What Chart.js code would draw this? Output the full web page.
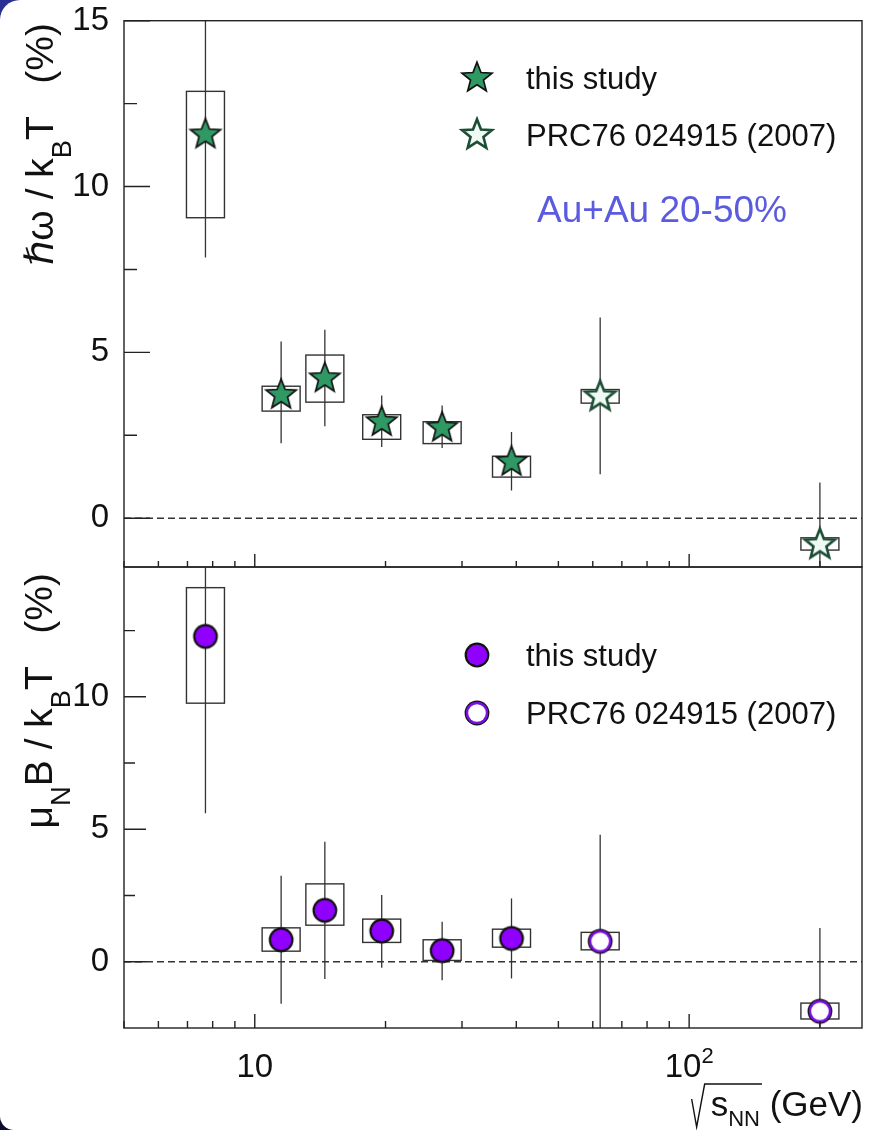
<!DOCTYPE html>
<html>
<head>
<meta charset="utf-8">
<script src="https://cdn.jsdelivr.net/npm/chart.js@4"></script>
<style>
  html, body { margin: 0; padding: 0; }
  body { width: 875px; height: 1130px; overflow: hidden; position: relative;
         background: linear-gradient(#283092, #0b0d2e); }
  #sheet { position: absolute; left: 0; top: 0; width: 875px; height: 1130px;
           background: #fff; border-radius: 20px 0 0 14px; }
  canvas { position: absolute; left: 0; }
  #top { top: 0; }
  #bottom { top: 540px; }
</style>
</head>
<body>
<div id="sheet"></div>
<canvas id="top" width="875" height="600"></canvas>
<canvas id="bottom" width="875" height="590"></canvas>
<script>
// collision energies, sqrt(s_NN) in GeV
const energies = [7.7, 11.5, 14.5, 19.6, 27, 39];
const prcEnergies = [62.4, 200];

// hbar*omega / kT (%)
const omegaVals   = [11.57, 3.72, 4.22, 2.90, 2.73, 1.70];
const omegaStatLo = [7.86, 2.26, 2.77, 2.15, 2.12, 0.84];
const omegaStatHi = [15.3, 5.33, 5.68, 3.70, 3.40, 2.60];
const omegaSysLo  = [9.06, 3.23, 3.50, 2.38, 2.25, 1.24];
const omegaSysHi  = [12.87, 3.98, 4.92, 3.12, 2.91, 1.87];
const omegaPrcVals   = [3.67, -0.79];
const omegaPrcStatLo = [1.33, -2.7];
const omegaPrcStatHi = [6.05, 1.08];
const omegaPrcSysLo  = [3.47, -0.96];
const omegaPrcSysHi  = [3.88, -0.59];

// mu_N B / kT (%)
const muVals   = [12.28, 0.83, 1.94, 1.16, 0.42, 0.88];
const muStatLo = [5.61, -1.58, -0.65, -0.23, -0.70, -0.63];
const muStatHi = [18.9, 3.25, 4.53, 2.52, 1.51, 2.39];
const muSysLo  = [9.76, 0.40, 1.38, 0.73, 0.05, 0.55];
const muSysHi  = [14.12, 1.28, 2.94, 1.61, 0.83, 1.23];
const muPrcVals   = [0.77, -1.87];
const muPrcStatLo = [-3.3, -5.0];
const muPrcStatHi = [4.79, 1.27];
const muPrcSysLo  = [0.45, -2.16];
const muPrcSysHi  = [1.11, -1.56];

// axes
const xRange = [5, 250];
const xMajorTicks = [10, 100];
const xMinorTicks = [5, 6, 7, 8, 9, 20, 30, 40, 50, 60, 70, 80, 90, 200];
const topRange = [-1.47, 15];
const topTicks = [0, 5, 10, 15];
const bottomRange = [-2.5, 14.9];
const bottomTicks = [0, 5, 10];
const yMinorTicks = [2.5, 7.5, 12.5];

const FONT = '"Liberation Sans", Arial, Helvetica, sans-serif';
const INK = '#222';

function makeStar(fill, stroke, lw) {
  const R = 15.8, r = R * 0.43, size = 38;
  const c = document.createElement('canvas');
  c.width = c.height = size;
  const g = c.getContext('2d');
  g.translate(size / 2, size / 2);
  g.beginPath();
  for (let i = 0; i < 10; i++) {
    const a = -Math.PI / 2 + i * Math.PI / 5;
    const rad = i % 2 ? r : R;
    g.lineTo(rad * Math.cos(a), rad * Math.sin(a));
  }
  g.closePath();
  g.fillStyle = fill;
  g.fill();
  g.lineJoin = 'miter';
  g.lineWidth = lw;
  g.strokeStyle = stroke;
  g.stroke();
  return c;
}

function makeCircle(open) {
  const size = 28;
  const c = document.createElement('canvas');
  c.width = c.height = size;
  const g = c.getContext('2d');
  const disc = (rad, col) => {
    g.beginPath();
    g.arc(size / 2, size / 2, rad, 0, Math.PI * 2);
    g.fillStyle = col;
    g.fill();
  };
  disc(12.4, '#111');
  if (open) {
    disc(11.2, '#7a10e0');
    disc(8.8, '#fff');
  } else {
    disc(10.2, '#8f00ff');
  }
  return c;
}

const starFull = makeStar('#2f9964', '#111', 1.7);
const starOpen = makeStar('#eefaf3', '#1e4d36', 2.6);
const circFull = makeCircle(false);
const circOpen = makeCircle(true);

function series(xs, vals, lo, hi, sLo, sHi, img) {
  return {
    data: xs.map((x, i) => ({ x, y: vals[i] })),
    statLo: lo, statHi: hi, sysLo: sLo, sysHi: sHi,
    pointStyle: img,
  };
}

// lays out text pieces (with sub/superscripts) along x, drawing if asked
function layoutPieces(ctx, pieces, size, draw) {
  let x = 0;
  pieces.forEach((p) => {
    const s = p.sub ? size * 0.7 : size;
    ctx.font = `${p.it ? 'italic ' : ''}${s}px ${FONT}, "DejaVu Sans"`;
    const dy = p.sub ? size * 0.45 : 0;
    if (draw) ctx.fillText(p.t, x, dy);
    x += ctx.measureText(p.t).width;
  });
  return x;
}

function panelPlugin(cfg) {
  return {
    id: 'panel_' + cfg.name,
    beforeDatasetsDraw(chart) {
      const { ctx, chartArea: a, scales: { x, y } } = chart;
      ctx.save();
      ctx.beginPath();
      ctx.rect(a.left, a.top, a.right - a.left, a.bottom - a.top);
      ctx.clip();
      // zero line
      ctx.setLineDash([7, 4]);
      ctx.lineWidth = 1.4;
      ctx.strokeStyle = '#333';
      ctx.beginPath();
      ctx.moveTo(a.left, y.getPixelForValue(0));
      ctx.lineTo(a.right, y.getPixelForValue(0));
      ctx.stroke();
      ctx.setLineDash([]);
      chart.data.datasets.forEach((ds) => {
        ds.data.forEach((pt, j) => {
          const px = x.getPixelForValue(pt.x);
          const b1 = y.getPixelForValue(ds.sysHi[j]);
          const b2 = y.getPixelForValue(ds.sysLo[j]);
          ctx.lineWidth = 1.4;
          ctx.strokeStyle = '#333';
          ctx.strokeRect(px - 19, b1, 38, b2 - b1);
          ctx.lineWidth = 1.3;
          ctx.beginPath();
          ctx.moveTo(px, y.getPixelForValue(ds.statHi[j]));
          ctx.lineTo(px, y.getPixelForValue(ds.statLo[j]));
          ctx.stroke();
        });
      });
      ctx.restore();
    },
    afterDraw(chart) {
      const { ctx, chartArea: a, scales: { x, y } } = chart;
      const off = cfg.offset;
      ctx.save();
      ctx.strokeStyle = INK;
      ctx.lineWidth = 1.4;
      ctx.strokeRect(a.left, a.top, a.right - a.left, a.bottom - a.top);
      // ticks point inward
      ctx.beginPath();
      const xTick = (v, len) => {
        if (v < xRange[0] || v > xRange[1]) return;
        const px = x.getPixelForValue(v);
        ctx.moveTo(px, a.bottom);
        ctx.lineTo(px, a.bottom - len);
      };
      xMajorTicks.forEach((v) => xTick(v, cfg.xTick[0]));
      xMinorTicks.forEach((v) => xTick(v, cfg.xTick[1]));
      const yTick = (v, len) => {
        const py = y.getPixelForValue(v);
        ctx.moveTo(a.left, py);
        ctx.lineTo(a.left + len, py);
      };
      cfg.yMajor.forEach((v) => yTick(v, cfg.yTick[0]));
      yMinorTicks.forEach((v) => { if (v < y.max) yTick(v, cfg.yTick[1]); });
      ctx.stroke();

      // rotated y title, ending near the top of the panel
      ctx.fillStyle = '#111';
      ctx.textBaseline = 'alphabetic';
      ctx.textAlign = 'left';
      const w = layoutPieces(ctx, cfg.title, 39, false);
      ctx.save();
      ctx.translate(cfg.titleX, cfg.titleEnd - off + w);
      ctx.rotate(-Math.PI / 2);
      layoutPieces(ctx, cfg.title, 39, true);
      ctx.restore();

      // legend
      cfg.legend.forEach((e) => {
        const ly = e.y - off;
        ctx.drawImage(e.img, 477 - e.img.width / 2, ly - e.img.height / 2);
        ctx.font = `31px ${FONT}`;
        ctx.fillStyle = '#111';
        ctx.fillText(e.text, 526, ly + 11);
      });
      if (cfg.extra) cfg.extra(chart, ctx, off);
      ctx.restore();
    },
  };
}

function axisOptions(range, ticks, padding) {
  return {
    responsive: false,
    animation: false,
    events: [],
    layout: { padding },
    plugins: { legend: { display: false }, tooltip: { enabled: false } },
    scales: {
      x: { type: 'logarithmic', min: xRange[0], max: xRange[1], display: false },
      y: {
        type: 'linear',
        min: range[0],
        max: range[1],
        afterBuildTicks: (s) => { s.ticks = ticks.map((v) => ({ value: v })); },
        afterFit: (s) => { s.width = 124; s.paddingTop = 0; s.paddingBottom = 0; },
        grid: { display: false, drawTicks: false },
        border: { display: false },
        ticks: {
          color: '#111',
          padding: 15,
          font: { family: FONT, size: 33, lineHeight: 1 },
        },
      },
    },
  };
}

// top panel
new Chart(document.getElementById('top'), {
  type: 'scatter',
  data: {
    datasets: [
      series(energies, omegaVals, omegaStatLo, omegaStatHi, omegaSysLo, omegaSysHi, starFull),
      series(prcEnergies, omegaPrcVals, omegaPrcStatLo, omegaPrcStatHi, omegaPrcSysLo, omegaPrcSysHi, starOpen),
    ],
  },
  options: axisOptions(topRange, topTicks, { left: 0, right: 13, top: 20.7, bottom: 33 }),
  plugins: [panelPlugin({
    name: 'top',
    offset: 0,
    xTick: [13, 6],
    yTick: [26, 13],
    yMajor: topTicks,
    titleX: 53,
    titleEnd: 23,
    title: [{ t: 'ℏ', it: true }, { t: 'ω' }, { t: ' / k' }, { t: 'B', sub: true }, { t: 'T   (%)' }],
    legend: [
      { img: starFull, text: 'this study', y: 78 },
      { img: starOpen, text: 'PRC76 024915 (2007)', y: 135 },
    ],
    extra(chart, ctx, off) {
      ctx.font = `37px ${FONT}`;
      ctx.fillStyle = '#5b5be0';
      ctx.textAlign = 'center';
      ctx.fillText('Au+Au 20-50%', 662, 222 - off);
    },
  })],
});

// bottom panel
new Chart(document.getElementById('bottom'), {
  type: 'scatter',
  data: {
    datasets: [
      series(energies, muVals, muStatLo, muStatHi, muSysLo, muSysHi, circFull),
      series(prcEnergies, muPrcVals, muPrcStatLo, muPrcStatHi, muPrcSysLo, muPrcSysHi, circOpen),
    ],
  },
  options: axisOptions(bottomRange, bottomTicks, { left: 0, right: 13, top: 27, bottom: 102 }),
  plugins: [panelPlugin({
    name: 'bottom',
    offset: 540,
    xTick: [14, 7],
    yTick: [22, 11],
    yMajor: bottomTicks,
    titleX: 52,
    titleEnd: 573,
    title: [{ t: 'μ' }, { t: 'N', sub: true }, { t: 'B / k' }, { t: 'B', sub: true }, { t: 'T   (%)' }],
    legend: [
      { img: circFull, text: 'this study', y: 655 },
      { img: circOpen, text: 'PRC76 024915 (2007)', y: 713 },
    ],
    extra(chart, ctx, off) {
      const { x } = chart.scales;
      ctx.fillStyle = '#111';
      ctx.textAlign = 'left';
      // x tick labels
      const labelBase = 1077 - off;
      ctx.font = `33px ${FONT}`;
      const w10 = ctx.measureText('10').width;
      ctx.fillText('10', x.getPixelForValue(10) - w10 / 2, labelBase);
      ctx.font = `22px ${FONT}`;
      const w2 = ctx.measureText('2').width;
      const start = x.getPixelForValue(100) - (w10 + w2) / 2;
      ctx.font = `33px ${FONT}`;
      ctx.fillText('10', start, labelBase);
      ctx.font = `22px ${FONT}`;
      ctx.fillText('2', start + w10, labelBase - 14);

      // axis title: sqrt(s_NN) (GeV), right aligned at frame edge
      const base = 1116 - off;
      ctx.font = `35px ${FONT}`;
      const wG = ctx.measureText(' (GeV)').width;
      const wS = ctx.measureText('s').width;
      ctx.font = `22px ${FONT}`;
      const wN = ctx.measureText('NN').width;
      const right = 863;
      const gx = right - wG;
      const nx = gx - wN;
      const sx = nx - wS;
      ctx.font = `35px ${FONT}`;
      ctx.fillText(' (GeV)', gx, base);
      ctx.fillText('s', sx, base);
      ctx.font = `22px ${FONT}`;
      ctx.fillText('NN', nx, base + 10);
      ctx.strokeStyle = '#111';
      ctx.lineWidth = 1.4;
      ctx.beginPath();
      ctx.moveTo(sx - 19, base - 17);
      ctx.lineTo(sx - 14, base + 11);
      ctx.lineTo(sx - 6, base - 32);
      ctx.lineTo(nx + wN + 2, base - 32);
      ctx.stroke();
    },
  })],
});
</script>
</body>
</html>
